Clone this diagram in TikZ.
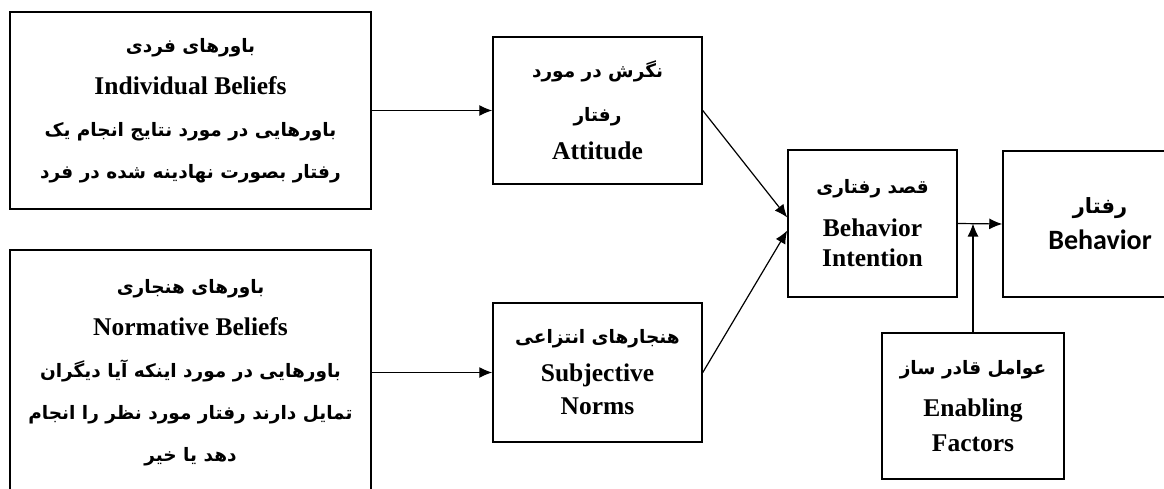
\documentclass[tikz,border=0pt]{standalone}
\usepackage{fontspec}
\setmainfont{Liberation Serif}
\newfontfamily\fafont[Script=Arabic]{DejaVu Sans Bold}
\newfontfamily\enfont{Liberation Serif Bold}
\newfontfamily\calfont{Carlito Bold}
\usetikzlibrary{arrows.meta}
\TeXXeTstate=1
\newcommand{\fa}[1]{{\fafont\fontsize{18.5}{18.5}\selectfont\beginR #1\endR}}
\newcommand{\en}[1]{{\enfont\fontsize{25.5}{25.5}\selectfont #1}}
\tikzset{
  box/.style={draw, line width=1.5pt, align=center, inner sep=0pt},
  link/.style={line width=1.2pt, -{Latex[length=13pt,width=11pt]}}
}
\begin{document}
\begin{tikzpicture}[x=1pt,y=-1pt]
    \useasboundingbox (0,0) rectangle (1164,488);
    % beliefs
    \node[box, minimum width=361pt, minimum height=197pt, font=\fontsize{17}{42}\selectfont] (ib) at (190.5,110.5)
        {\fa{باورهای فردی}\\ \en{Individual Beliefs}\\ \fa{باورهایی در مورد نتایج انجام یک}\\ \fa{رفتار بصورت نهادینه شده در فرد}};
    \node[box, minimum width=361pt, minimum height=245pt, font=\fontsize{17}{42}\selectfont] (nb) at (190.5,372.5)
        {\fa{باورهای هنجاری}\\ \en{Normative Beliefs}\\ \fa{باورهایی در مورد اینکه آیا دیگران}\\ \fa{تمایل دارند رفتار مورد نظر را انجام}\\ \fa{دهد یا خیر}};
    % attitude and norms
    \node[box, minimum width=209pt, minimum height=147pt, font=\fontsize{17}{44}\selectfont] (att) at (597.5,110.5)
        {\fa{نگرش در مورد}\\ \fa{رفتار}\\[-6pt] \en{Attitude}};
    \node[box, minimum width=209pt, minimum height=139pt, font=\fontsize{17}{33}\selectfont] (sn) at (597.5,372.5)
        {\fa{هنجارهای انتزاعی}\\[5pt] \en{Subjective}\\ \en{Norms}};
    % intention, behavior, enabling
    \node[box, minimum width=169pt, minimum height=147pt, font=\fontsize{17}{30}\selectfont] (bi) at (872.5,223.5)
        {\fa{قصد رفتاری}\\[13pt] \en{Behavior}\\ \en{Intention}};
    \node[box, minimum width=194pt, minimum height=146pt, font=\fontsize{21}{36}\selectfont] (beh) at (1100,224)
        {{\fafont\beginR رفتار\endR}\\ {\calfont\fontsize{28}{28}\selectfont Behavior}};
    \node[box, minimum width=182pt, minimum height=146pt, font=\fontsize{17}{35}\selectfont] (ef) at (973,406)
        {\fa{عوامل قادر ساز}\\[7pt] \en{Enabling}\\ \en{Factors}};
    % arrows
    \draw[link] (ib.east) -- (att.west);
    \draw[link] (nb.east) -- (sn.west);
    \draw[link] (att.east) -- ([yshift=6pt]bi.west);
    \draw[link] (sn.east) -- ([yshift=-7pt]bi.west);
    \draw[link] (bi.east) -- (beh.west);
    \draw[link] (ef.north) -- (ef.north |- bi.east);
\end{tikzpicture}
\end{document}
